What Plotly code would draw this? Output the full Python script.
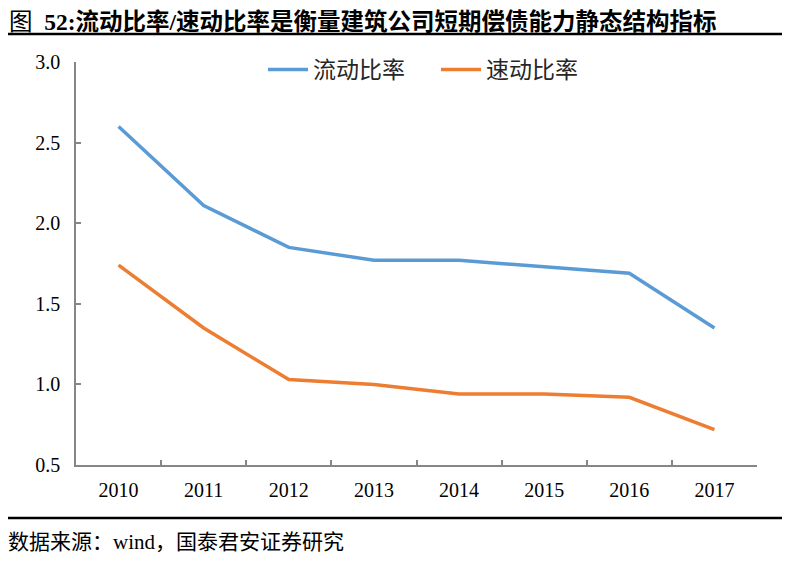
import plotly.graph_objects as go

years = ["2010", "2011", "2012", "2013", "2014", "2015", "2016", "2017"]
current_ratio = [2.60, 2.11, 1.85, 1.77, 1.77, 1.73, 1.69, 1.35]
quick_ratio = [1.74, 1.35, 1.03, 1.00, 0.94, 0.94, 0.92, 0.72]
series_names = ["流动比率", "速动比率"]
y_ticks = [0.5, 1.0, 1.5, 2.0, 2.5, 3.0]
y_tick_text = ["0.5", "1.0", "1.5", "2.0", "2.5", "3.0"]

title_text = "图  <b>52:流动比率/速动比率是衡量建筑公司短期偿债能力静态结构指标</b>"
source_text = "数据来源：wind，国泰君安证券研究"

W, H = 790, 562
OFF = 8  # page body margin offset
# desired plot area in window pixels: x 76..757, y 62..465
ML, MT = 76 - OFF, 62 - OFF
MR, MB = W - (757 - OFF), H - (465 - OFF)
PW, PH = W - ML - MR, H - MT - MB


def px_x(x):
    return (x - OFF - ML) / PW


def px_y(y):
    return (H - MB - (y - OFF)) / PH


fig = go.Figure()
fig.add_trace(go.Scatter(x=years, y=current_ratio, mode="lines", name=series_names[0],
                         line=dict(color="#5B9BD5", width=3.5)))
fig.add_trace(go.Scatter(x=years, y=quick_ratio, mode="lines", name=series_names[1],
                         line=dict(color="#ED7D31", width=3.5)))

axis_col = "#868686"
tick_font = dict(family="Liberation Serif, Noto Sans CJK SC", size=20, color="#000000")

fig.update_layout(
    width=W, height=H,
    margin=dict(l=ML, r=MR, t=MT, b=MB, pad=0, autoexpand=False),
    paper_bgcolor="white", plot_bgcolor="white",
    showlegend=True,
    legend=dict(orientation="h", x=px_x(263), y=px_y(48), xanchor="left", yanchor="top",
                font=dict(family="Noto Sans CJK SC", size=23, color="#262626"),
                itemwidth=40, entrywidth=118, tracegroupgap=0, bgcolor="rgba(0,0,0,0)"),
    xaxis=dict(type="category", tickson="boundaries", ticks="inside", ticklen=5,
               tickcolor=axis_col, tickwidth=1.5, showline=True, linecolor=axis_col,
               linewidth=1.5, showgrid=False, zeroline=False, tickfont=tick_font,
               ticklabelstandoff=6, range=[-0.5, 7.5]),
    yaxis=dict(range=[0.5, 3.0], tickvals=y_ticks, ticktext=y_tick_text, ticks="inside",
               ticklen=5, tickcolor=axis_col, tickwidth=1.5, showline=True,
               linecolor=axis_col, linewidth=1.5, showgrid=False, zeroline=False,
               tickfont=tick_font, ticklabelstandoff=10),
)

# Title, separator rules and source note
fig.add_annotation(text=title_text, xref="paper", yref="paper",
                   x=px_x(8), y=px_y(8), borderpad=0,
                   xanchor="left", yanchor="top", showarrow=False,
                   font=dict(family="Liberation Serif, Noto Sans CJK SC", size=23.5, color="#000000"))
fig.add_shape(type="line", xref="paper", yref="paper",
              x0=px_x(8), x1=px_x(786), y0=px_y(34), y1=px_y(34),
              line=dict(color="#000000", width=2.5))
fig.add_shape(type="line", xref="paper", yref="paper",
              x0=px_x(8), x1=px_x(786), y0=px_y(518), y1=px_y(518),
              line=dict(color="#000000", width=2.5))
fig.add_annotation(text=source_text, xref="paper", yref="paper",
                   x=px_x(6), y=px_y(542),
                   xanchor="left", yanchor="middle", showarrow=False,
                   font=dict(family="Liberation Serif, Noto Sans CJK SC", size=21, color="#000000"))

fig.write_html("out.html")
